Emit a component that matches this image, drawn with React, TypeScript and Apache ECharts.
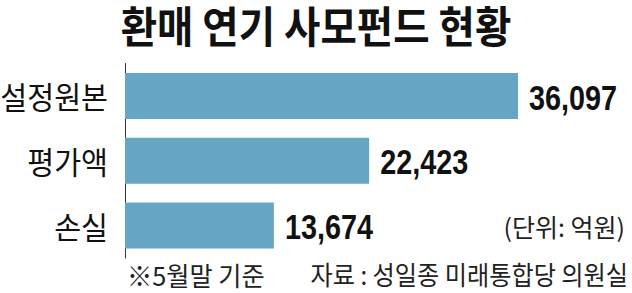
import React, { useEffect, useRef } from "react";
import * as echarts from "echarts";

const categories = ["설정원본", "평가액", "손실"];
const values = [36097, 22423, 13674];
const titleText = "환매 연기 사모펀드 현황";
const unitText = "(단위: 억원)";
const noteText = "※5월말 기준";
const sourceText = "자료 : 성일종 미래통합당 의원실";

const KR = "'Noto Sans CJK KR', 'Noto Sans', sans-serif";
const NUM = "'Liberation Sans', Arial, sans-serif";

export default function App() {
  const ref = useRef<HTMLDivElement>(null);
  useEffect(() => {
    document.body.style.margin = "0";
    const chart = echarts.init(ref.current!, null, { renderer: "svg" });
    chart.setOption({
      animation: false,
      backgroundColor: "#ffffff",
      grid: { left: 125, top: 63.5, width: 435.5, height: 194.5, containLabel: false },
      xAxis: { type: "value", min: 0, max: 40000, show: false },
      yAxis: {
        type: "category",
        data: categories,
        inverse: true,
        axisLine: { show: true, lineStyle: { color: "#333333", width: 1 } },
        axisTick: { show: false },
        axisLabel: { show: false },
      },
      series: [
        {
          type: "bar",
          data: values,
          barWidth: 46,
          itemStyle: { color: "#66a5c4" },
        },
        {
          // value labels
          type: "custom",
          data: values.map((v, i) => [v, i]),
          renderItem: (params: any, api: any) => {
            const v = api.value(0);
            const pt = api.coord([v, api.value(1)]);
            return {
              type: "text",
              x: pt[0] + 11,
              y: pt[1] + 1,
              scaleX: 0.8,
              style: {
                text: Number(v).toLocaleString("en-US"),
                fontSize: 36,
                fontWeight: "bold",
                fontFamily: NUM,
                fill: "#111111",
                align: "left",
                verticalAlign: "middle",
              },
            };
          },
        },
        {
          // category labels
          type: "custom",
          data: categories.map((_, i) => [0, i]),
          renderItem: (params: any, api: any) => {
            const pt = api.coord([api.value(0), api.value(1)]);
            return {
              type: "text",
              x: pt[0] - 17,
              y: pt[1],
              scaleX: 0.96,
              style: {
                text: categories[params.dataIndex],
                fontSize: 30.5,
                fontFamily: KR,
                fill: "#111111",
                align: "right",
                verticalAlign: "middle",
              },
            };
          },
        },
      ],
      graphic: [
        {
          type: "text",
          x: 316,
          y: 24,
          scaleX: 0.92,
          style: {
            text: titleText,
            fontSize: 43,
            fontWeight: "bold",
            fontFamily: KR,
            fill: "#111111",
            align: "center",
            verticalAlign: "middle",
          },
        },
        {
          type: "text",
          x: 625,
          y: 226,
          style: {
            text: unitText,
            fontSize: 25,
            fontFamily: KR,
            fill: "#222222",
            align: "right",
            verticalAlign: "middle",
          },
        },
        {
          type: "text",
          x: 127,
          y: 274,
          scaleX: 0.97,
          style: {
            text: noteText,
            fontSize: 26,
            fontFamily: KR,
            fill: "#222222",
            align: "left",
            verticalAlign: "middle",
          },
        },
        {
          type: "text",
          x: 628,
          y: 274,
          scaleX: 0.93,
          style: {
            text: sourceText,
            fontSize: 26,
            fontFamily: KR,
            fill: "#222222",
            align: "right",
            verticalAlign: "middle",
          },
        },
      ],
    });
    return () => chart.dispose();
  }, []);
  return (
    <div
      ref={ref}
      style={{ position: "absolute", left: 0, top: 0, width: 632, height: 293 }}
    />
  );
}
